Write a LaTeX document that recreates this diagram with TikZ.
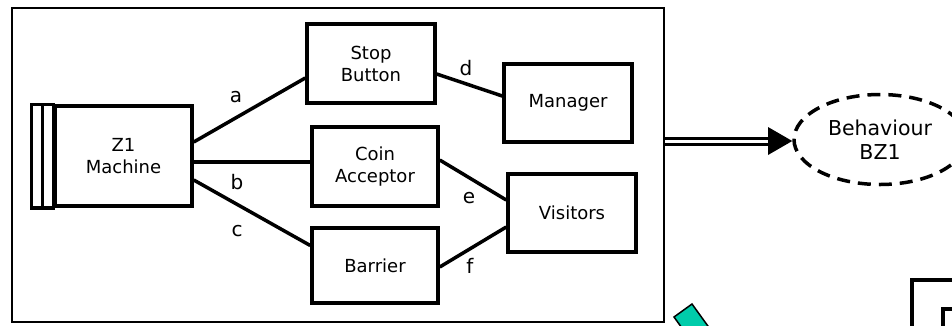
\documentclass[tikz,border=0pt]{standalone}
\usepackage{fontspec}
\setmainfont{DejaVu Sans}
\usetikzlibrary{calc,shapes.geometric}
\definecolor{tealfill}{RGB}{0,204,170}
\begin{document}
\begin{tikzpicture}[x=1pt,y=-1pt,
  box/.style={draw,line width=3.5pt,rectangle,inner sep=0pt,align=center,font=\fontsize{18}{22}\selectfont},
  conn/.style={line width=3.5pt},
  lab/.style={inner sep=0pt,font=\fontsize{20}{24}\selectfont}]
\clip (0,0) rectangle (952,325);
\fill[white] (0,0) rectangle (952,325);
% frame
\node[draw,line width=2.7pt,minimum width=652pt,minimum height=314pt,inner sep=0pt] (frame) at (338,165) {};
% Z1 machine
\node[box,minimum width=137pt,minimum height=100pt] (z1) at (123.5,156) {Z1\\Machine};
\draw[line width=3.5pt] ($(z1.north west)+(-22,0)$) rectangle (z1.south west);
\draw[line width=3pt] ($(z1.north west)+(-11,0)$) -- ($(z1.south west)+(-11,0)$);
% boxes
\node[box,minimum width=128pt,minimum height=79pt] (stop) at (371,63.5) {Stop\\Button};
\node[box,minimum width=126pt,minimum height=79pt] (coin) at (375,166.5) {Coin\\Acceptor};
\node[box,minimum width=126pt,minimum height=75pt] (barrier) at (375,265.5) {Barrier};
\node[box,minimum width=128pt,minimum height=78pt] (manager) at (568,103) {Manager};
\node[box,minimum width=128pt,minimum height=78pt] (visitors) at (572,213) {Visitors};
% connectors
\draw[conn] ($(z1.east)+(0,-14)$) -- ($(stop.west)+(0,14.5)$);
\draw[conn] ($(z1.east)+(0,6)$) -- (coin.west |- {$(z1.east)+(0,6)$});
\draw[conn] ($(z1.east)+(0,24)$) -- ($(barrier.west)+(0,-20)$);
\draw[conn] ($(stop.east)+(0,10.5)$) -- ($(manager.west)+(0,-7)$);
\draw[conn] ($(coin.east)+(0,-6.5)$) -- ($(visitors.west)+(0,-13)$);
\draw[conn] ($(barrier.east)+(0,1.5)$) -- ($(visitors.west)+(0,14)$);
% labels
\node[lab] (la) at (236,97) {a};
\node[lab] (lb) at (237,182) {b};
\node[lab] (lc) at (237,231) {c};
\node[lab] (ld) at (466,68) {d};
\node[lab] (le) at (469,198) {e};
\node[lab] (lf) at (470,266) {f};
% behaviour ellipse
\node[ellipse,draw,dash pattern=on 13pt off 8pt,line width=3.5pt,minimum width=172pt,minimum height=90pt,inner sep=0pt,align=center,font=\fontsize{20.5}{24}\selectfont] (bz1) at (880,139.5) {Behaviour\\BZ1};
% double arrow
\coordinate (ab) at (768,141);
\draw[line width=3pt,double,double distance=3pt] ($(frame.east)+(0,-24)$) -- (ab);
\fill ($(ab)+(0,-14)$) -- (bz1.west |- ab) -- ($(ab)+(0,14)$) -- cycle;
% teal shape
\filldraw[fill=tealfill,line width=1.5pt] (674,317) -- (692,304) -- (718,340) -- (700,353) -- cycle;
% bottom-right partial box
\draw[line width=4pt] (912,280) rectangle (1000,400);
\draw[line width=4pt] (943,309) rectangle (1000,400);
\end{tikzpicture}
\end{document}
